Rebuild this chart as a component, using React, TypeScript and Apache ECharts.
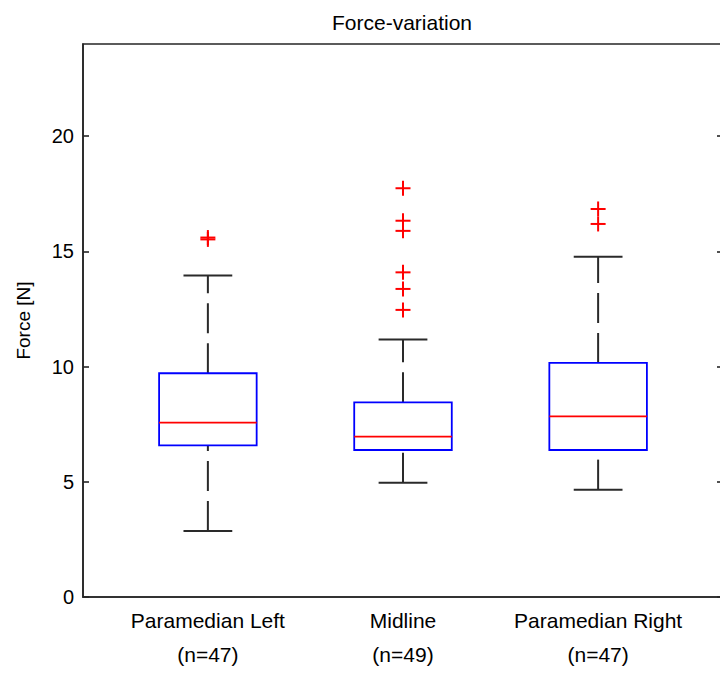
import React, { useEffect, useRef } from "react";
import * as echarts from "echarts";

// Groups along the x axis and their sample sizes
const groups = ["Paramedian Left", "Midline", "Paramedian Right"];
const counts = [47, 49, 47];

// Five-number summaries per group (N)
const lowerWhisker = [2.86, 4.96, 4.66];
const q1 = [6.58, 6.38, 6.38];
const median = [7.57, 6.96, 7.84];
const q3 = [9.71, 8.45, 10.16];
const upperWhisker = [13.95, 11.18, 14.77];

// Points beyond the whiskers, per group
const outliers = [
  [15.52, 15.6],
  [12.46, 13.37, 14.09, 15.89, 16.33, 17.74],
  [16.19, 16.84],
];

const yTicks = [0, 5, 10, 15, 20];
const groupPositions = [1, 2, 3];

const FONT = "'Liberation Sans', Arial, Helvetica, sans-serif";
const AXIS_COLOR = "#262626";

export default function App() {
  const ref = useRef<HTMLDivElement>(null);

  useEffect(() => {
    if (!ref.current) return;
    const chart = echarts.init(ref.current, undefined, { renderer: "svg" });

    const boxData = groupPositions.map((x, i) => [
      x,
      lowerWhisker[i],
      q1[i],
      median[i],
      q3[i],
      upperWhisker[i],
    ]);
    const outlierData: number[][] = [];
    outliers.forEach((vals, i) => {
      vals.forEach((v) => outlierData.push([groupPositions[i], v]));
    });

    const boxHalf = 0.25;
    const capHalf = 0.125;

    chart.setOption({
      animation: false,
      backgroundColor: "#ffffff",
      title: {
        text: "Force-variation",
        left: 327,
        top: 7,
        textStyle: {
          fontFamily: FONT,
          fontSize: 21,
          fontWeight: "normal",
          color: "#000",
        },
      },
      grid: {
        left: 83,
        right: 7,
        top: 44,
        bottom: 76,
        show: true,
        borderColor: AXIS_COLOR,
        borderWidth: 1.6,
        backgroundColor: "transparent",
      },
      xAxis: {
        type: "value",
        min: 0.36,
        max: 3.64,
        axisLine: { show: true, lineStyle: { color: AXIS_COLOR, width: 1.6 } },
        axisTick: { show: false },
        splitLine: { show: false },
        axisLabel: {
          customValues: groupPositions,
          formatter: (v: number) => {
            const i = Math.round(v) - 1;
            return `${groups[i]}\n(n=${counts[i]})`;
          },
          fontFamily: FONT,
          fontSize: 21,
          lineHeight: 34,
          color: "#000",
          margin: 6,
        },
      },
      yAxis: [
        {
          type: "value",
          min: 0,
          max: 24,
          name: "Force [N]",
          nameLocation: "middle",
          nameGap: 50,
          nameTextStyle: { fontFamily: FONT, fontSize: 19, color: "#000" },
          axisLine: { show: true, lineStyle: { color: AXIS_COLOR, width: 1.6 } },
          axisTick: {
            show: true,
            inside: true,
            length: 6,
            customValues: yTicks,
            lineStyle: { color: AXIS_COLOR, width: 1.6 },
          },
          axisLabel: {
            customValues: yTicks,
            fontFamily: FONT,
            fontSize: 20,
            color: "#000",
            margin: 9,
          },
          splitLine: { show: false },
        },
        {
          type: "value",
          min: 0,
          max: 24,
          position: "right",
          axisLine: { show: true, lineStyle: { color: AXIS_COLOR, width: 1.6 } },
          axisTick: {
            show: true,
            inside: true,
            length: 6,
            customValues: yTicks,
            lineStyle: { color: AXIS_COLOR, width: 1.6 },
          },
          axisLabel: { show: false },
          splitLine: { show: false },
        },
      ],
      series: [
        {
          type: "custom",
          name: "boxes",
          data: boxData,
          encode: { x: 0, y: [1, 2, 3, 4, 5] },
          renderItem: (_params: any, api: any) => {
            const x = api.value(0);
            const lo = api.value(1);
            const a = api.value(2);
            const m = api.value(3);
            const b = api.value(4);
            const hi = api.value(5);
            const c = (xx: number, yy: number) => api.coord([xx, yy]);
            const pLo = c(x, lo);
            const pA = c(x, a);
            const pB = c(x, b);
            const pHi = c(x, hi);
            const boxTL = c(x - boxHalf, b);
            const boxBR = c(x + boxHalf, a);
            const medL = c(x - boxHalf, m);
            const medR = c(x + boxHalf, m);
            const capLoL = c(x - capHalf, lo);
            const capLoR = c(x + capHalf, lo);
            const capHiL = c(x - capHalf, hi);
            const capHiR = c(x + capHalf, hi);
            const whisker = {
              stroke: "#2a2a2a",
              lineWidth: 2,
              lineDash: [30, 10],
              fill: "none",
            };
            const cap = { stroke: "#2a2a2a", lineWidth: 2, fill: "none" };
            return {
              type: "group",
              children: [
                {
                  type: "line",
                  shape: { x1: pB[0], y1: pB[1], x2: pHi[0], y2: pHi[1] },
                  style: whisker,
                },
                {
                  type: "line",
                  shape: { x1: pLo[0], y1: pLo[1], x2: pA[0], y2: pA[1] },
                  style: whisker,
                },
                {
                  type: "line",
                  shape: { x1: capHiL[0], y1: capHiL[1], x2: capHiR[0], y2: capHiR[1] },
                  style: cap,
                },
                {
                  type: "line",
                  shape: { x1: capLoL[0], y1: capLoL[1], x2: capLoR[0], y2: capLoR[1] },
                  style: cap,
                },
                {
                  type: "rect",
                  shape: {
                    x: boxTL[0],
                    y: boxTL[1],
                    width: boxBR[0] - boxTL[0],
                    height: boxBR[1] - boxTL[1],
                  },
                  style: { stroke: "#0000ff", lineWidth: 1.8, fill: "#ffffff" },
                },
                {
                  type: "line",
                  shape: { x1: medL[0], y1: medL[1], x2: medR[0], y2: medR[1] },
                  style: { stroke: "#ff0000", lineWidth: 1.8 },
                },
              ],
            };
          },
          z: 2,
        },
        {
          type: "custom",
          name: "outliers",
          data: outlierData,
          encode: { x: 0, y: 1 },
          renderItem: (_params: any, api: any) => {
            const p = api.coord([api.value(0), api.value(1)]);
            const h = 7.5;
            const st = { stroke: "#ff0000", lineWidth: 2 };
            return {
              type: "group",
              children: [
                {
                  type: "line",
                  shape: { x1: p[0] - h, y1: p[1], x2: p[0] + h, y2: p[1] },
                  style: st,
                },
                {
                  type: "line",
                  shape: { x1: p[0], y1: p[1] - h, x2: p[0], y2: p[1] + h },
                  style: st,
                },
              ],
            };
          },
          z: 3,
        },
      ],
    });

    return () => chart.dispose();
  }, []);

  return (
    <div
      style={{
        position: "fixed",
        left: 0,
        top: 0,
        width: 720,
        height: 673,
        overflow: "hidden",
      }}
    >
      <div ref={ref} style={{ width: 730, height: 673 }} />
    </div>
  );
}
